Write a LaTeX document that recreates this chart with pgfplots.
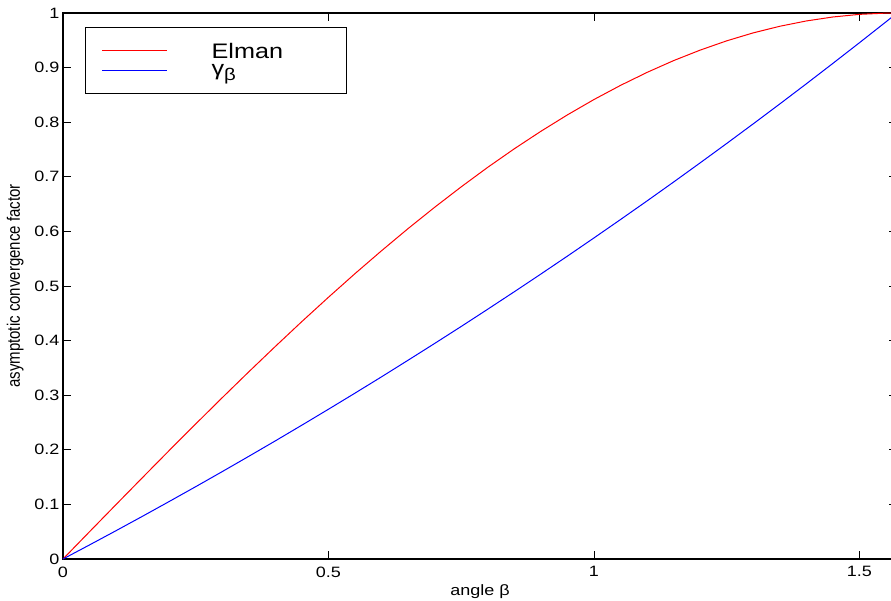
\documentclass[border=0pt]{standalone}
\usepackage{pgfplots}
\pgfplotsset{compat=1.18}
\usepackage{fontspec}
\setmainfont{Liberation Sans}
\usepackage{graphicx}

% text in the reference is a little stretched sideways
\newcommand{\hs}[1]{\scalebox{1.2}[1]{#1}}

\pgfplotstableread{
beta    elman
0       0
0.05    0.0500
0.10    0.0998
0.15    0.1494
0.20    0.1987
0.25    0.2474
0.30    0.2955
0.35    0.3429
0.40    0.3894
0.45    0.4350
0.50    0.4794
0.55    0.5227
0.60    0.5646
0.65    0.6052
0.70    0.6442
0.75    0.6816
0.80    0.7174
0.85    0.7513
0.90    0.7833
0.95    0.8134
1.00    0.8415
1.05    0.8674
1.10    0.8912
1.15    0.9128
1.20    0.9320
1.25    0.9490
1.30    0.9636
1.35    0.9757
1.40    0.9854
1.45    0.9927
1.50    0.9975
1.55    0.9998
1.5708  1.0000
}\elman

\pgfplotstableread{
beta    gamma
0       0
0.05    0.0258
0.10    0.0519
0.15    0.0784
0.20    0.1053
0.25    0.1325
0.30    0.1601
0.35    0.1881
0.40    0.2164
0.45    0.2452
0.50    0.2743
0.55    0.3038
0.60    0.3337
0.65    0.3641
0.70    0.3948
0.75    0.4259
0.80    0.4575
0.85    0.4895
0.90    0.5219
0.95    0.5547
1.00    0.5880
1.05    0.6217
1.10    0.6558
1.15    0.6904
1.20    0.7255
1.25    0.7610
1.30    0.7970
1.35    0.8334
1.40    0.8703
1.45    0.9077
1.50    0.9455
1.55    0.9838
1.5708  1.0000
}\gam

\begin{document}
\begin{tikzpicture}
\begin{axis}[
    scale only axis,
    width=834pt, height=546pt,
    xmin=0, xmax=1.5708,
    ymin=0, ymax=1,
    xtick={0,0.5,1,1.5},
    ytick={0,0.1,0.2,0.3,0.4,0.5,0.6,0.7,0.8,0.9,1},
    tick align=inside,
    major tick length=8pt,
    every tick/.style={black, line width=0.8pt},
    axis line style={line width=1.2pt},
    font=\fontsize{15}{18}\selectfont,
    /pgf/number format/assume math mode=true,
    xticklabel={\hs{\pgfmathprintnumber{\tick}}},
    yticklabel={\hs{\pgfmathprintnumber{\tick}}},
    xticklabel style={yshift=-4pt},
    xlabel={\hs{angle β}},
    ylabel={\scalebox{1}[1.2]{asymptotic convergence factor}},
    xlabel style={yshift=-1pt},
    ylabel style={yshift=4pt},
    legend style={
        at={(axis description cs:0.0264,0.9744)}, anchor=north west,
        draw=black, line width=1.2pt,
        inner xsep=16pt, inner ysep=15.5pt,
        row sep=6pt,
        nodes={inner sep=0pt},
        font=\fontsize{21}{25}\selectfont,
    },
    legend cell align=left,
    legend image code/.code={\draw[line width=1pt, #1] (0pt,0.2pt) -- (65pt,0.2pt);},
]
\addplot[draw=red, line width=1pt] table[x=beta, y=elman] {\elman};
\addplot[draw=blue, line width=1pt] table[x=beta, y=gamma] {\gam};
\addlegendentry{\makebox[163pt][l]{\hspace{44pt}\raisebox{-2.5pt}[13pt][9pt]{\hs{Elman}}}}
\addlegendentry{\makebox[163pt][l]{\hspace{44pt}\raisebox{1.5pt}[13pt][9pt]{\hs{γ\raisebox{-5pt}{\fontsize{17}{17}\selectfont β}}}}}
\end{axis}
\pgfresetboundingbox
\path[use as bounding box] (-63pt,-41pt) rectangle (828pt,559pt);
\end{tikzpicture}
\end{document}
